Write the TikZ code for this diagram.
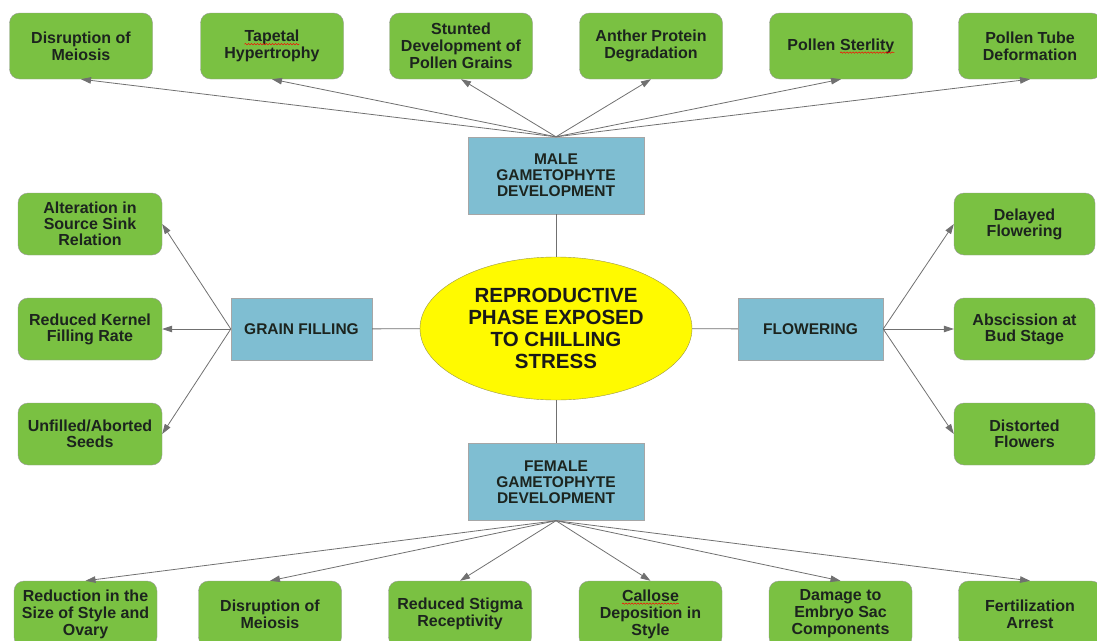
\documentclass[tikz,border=0pt]{standalone}
\usepackage{fontspec}
\setmainfont{Liberation Sans}
\usetikzlibrary{shapes.geometric,arrows.meta,decorations.pathmorphing}

\definecolor{leafgreen}{RGB}{122,193,66}
\definecolor{stageblue}{RGB}{127,190,210}
\definecolor{coreyellow}{RGB}{255,250,0}
\definecolor{textdark}{RGB}{28,36,30}
\definecolor{linegray}{RGB}{112,112,112}

% red spell-check wave under a word
\newcommand{\spellmark}[1]{\tikz[baseline=(sw.base), x=1pt, y=1pt, sharp corners]{%
  \node[inner sep=0pt, outer sep=0pt, minimum width=0pt, minimum height=0pt,
    draw=none, fill=none, sharp corners] (sw) {#1};
  \draw[red, line width=0.5pt, sharp corners, decorate,
    decoration={snake, amplitude=0.7pt, segment length=3pt}]
    ([yshift=-2.5pt]sw.base west) -- ([yshift=-2.5pt]sw.base east);}}

\tikzset{
  effect/.style={draw=black!40, fill=leafgreen, rounded corners=10pt,
    minimum width=143pt, minimum height=66pt, align=center, text=textdark,
    font=\bfseries\fontsize{16}{17}\selectfont},
  side/.style={effect, minimum height=62pt, font=\bfseries\fontsize{16}{16}\selectfont},
  stage/.style={draw=black!35, fill=stageblue, minimum width=176pt,
    minimum height=77pt, align=center, text=textdark,
    font=\bfseries\fontsize{15.5}{16}\selectfont},
  arr/.style={draw=linegray, line width=0.8pt, -{Triangle[length=10pt,width=6.5pt]}},
  link/.style={draw=linegray, line width=0.8pt},
}

\begin{document}
\begin{tikzpicture}[x=1pt,y=-1pt]

    \useasboundingbox (0,0) rectangle (1097,640);
    \clip (0,0) rectangle (1097,640);

    % Centro
    \node[ellipse, draw=black!45!yellow, fill=coreyellow, minimum width=272pt,
      minimum height=143pt, inner sep=0pt, align=center, text=black!90,
      font=\bfseries\fontsize{20.5}{22}\selectfont] (core) at (556,328.5)
      {REPRODUCTIVE\\PHASE EXPOSED\\TO CHILLING\\STRESS};

    \node[stage] (male) at (556,175.5) {MALE\\GAMETOPHYTE\\DEVELOPMENT};
    \node[stage] (female) at (556,482) {FEMALE\\GAMETOPHYTE\\DEVELOPMENT};
    \node[stage, minimum width=141pt, minimum height=62pt] (grain) at (301.5,329) {GRAIN FILLING};
    \node[stage, minimum width=145pt, minimum height=62pt] (flower) at (810.5,329) {FLOWERING};

    \draw[link] (male) -- (core);
    \draw[link] (core) -- (female);
    \draw[link] (core) -- (grain);
    \draw[link] (core) -- (flower);

    % Cima
    \node[effect] (m1) at (81,46) {Disruption of\\Meiosis};
    \node[effect] (m2) at (272,46) {\spellmark{Tapetal}\\Hypertrophy};
    \node[effect] (m3) at (461,46) {Stunted\\Development of\\Pollen Grains};
    \node[effect] (m4) at (651,46) {Anther Protein\\Degradation};
    \node[effect] (m5) at (841,46) {Pollen \spellmark{Sterlity}};
    \node[effect] (m6) at (1030,46) {Pollen Tube\\Deformation};

    \draw[arr] (male.north) -- (m1.south);
    \draw[arr] (male.north) -- (m2.south);
    \draw[arr] (male.north) -- (m3.south);
    \draw[arr] (male.north) -- (m4.south);
    \draw[arr] (male.north) -- (m5.south);
    \draw[arr] (male.north) -- (m6.south);

    % Esquerda
    \node[side, minimum width=144pt] (g1) at (90,224) {Alteration in\\Source Sink\\Relation};
    \node[side, minimum width=144pt] (g2) at (90,329) {Reduced Kernel\\Filling Rate};
    \node[side, minimum width=144pt] (g3) at (90,434) {Unfilled/Aborted\\Seeds};

    \draw[arr] (grain.west) -- (g1.east);
    \draw[arr] (grain.west) -- (g2.east);
    \draw[arr] (grain.west) -- (g3.east);

    % Direita
    \node[side, minimum width=141pt] (f1) at (1024.5,224) {Delayed\\Flowering};
    \node[side, minimum width=141pt] (f2) at (1024.5,329) {Abscission at\\Bud Stage};
    \node[side, minimum width=141pt] (f3) at (1024.5,434) {Distorted\\Flowers};

    \draw[arr] (flower.east) -- (f1.west);
    \draw[arr] (flower.east) -- (f2.west);
    \draw[arr] (flower.east) -- (f3.west);

    % Baixo
    \node[effect] (w1) at (85.5,614) {Reduction in the\\Size of Style and\\Ovary};
    \node[effect] (w2) at (270,614) {Disruption of\\Meiosis};
    \node[effect] (w3) at (460,614) {Reduced Stigma\\Receptivity};
    \node[effect] (w4) at (650.5,614) {\spellmark{Callose}\\Deposition in\\Style};
    \node[effect] (w5) at (840.5,614) {Damage to\\Embryo Sac\\Components};
    \node[effect] (w6) at (1030,614) {Fertilization\\Arrest};

    \draw[arr] (female.south) -- (w1.north);
    \draw[arr] (female.south) -- (w2.north);
    \draw[arr] (female.south) -- (w3.north);
    \draw[arr] (female.south) -- (w4.north);
    \draw[arr] (female.south) -- (w5.north);
    \draw[arr] (female.south) -- (w6.north);

\end{tikzpicture}
\end{document}
